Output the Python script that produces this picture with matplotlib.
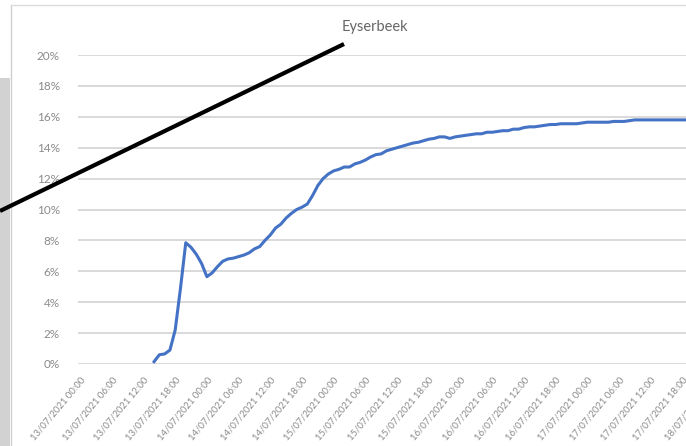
import numpy as np
import matplotlib
matplotlib.use("Agg")
import matplotlib.pyplot as plt
from matplotlib.lines import Line2D
from matplotlib.patches import Rectangle
from matplotlib.ticker import FuncFormatter

plt.rcParams['font.family'] = ['Lato', 'DejaVu Sans']

# Eyserbeek: cumulative share, hourly readings starting 13/07/2021 14:00
start_hour = 14
share_pct = [
    0.15, 0.6, 0.65, 0.9, 2.2, 4.9, 7.85, 7.55, 7.1, 6.5,
    5.65, 5.9, 6.3, 6.65, 6.8, 6.85, 6.95, 7.05, 7.2, 7.45,
    7.6, 8.0, 8.35, 8.8, 9.05, 9.45, 9.75, 10.0, 10.15, 10.35,
    10.9, 11.55, 12.0, 12.3, 12.5, 12.6, 12.75, 12.75, 12.95, 13.05,
    13.2, 13.4, 13.55, 13.6, 13.8, 13.9, 14.0, 14.1, 14.2, 14.3,
    14.35, 14.45, 14.55, 14.6, 14.7, 14.7, 14.6, 14.7, 14.75, 14.8,
    14.85, 14.9, 14.9, 15.0, 15.0, 15.05, 15.1, 15.1, 15.2, 15.2,
    15.3, 15.35, 15.35, 15.4, 15.45, 15.5, 15.5, 15.55, 15.55, 15.55,
    15.55, 15.6, 15.65, 15.65, 15.65, 15.65, 15.65, 15.7, 15.7, 15.7,
    15.75, 15.8, 15.8, 15.8, 15.8, 15.8, 15.8, 15.8, 15.8, 15.8,
    15.8, 15.8, 15.8, 15.8, 15.8, 15.8, 15.8,
]

tick_hours = list(range(0, 121, 6))
tick_labels = [
    "13/07/2021 00:00", "13/07/2021 06:00", "13/07/2021 12:00", "13/07/2021 18:00",
    "14/07/2021 00:00", "14/07/2021 06:00", "14/07/2021 12:00", "14/07/2021 18:00",
    "15/07/2021 00:00", "15/07/2021 06:00", "15/07/2021 12:00", "15/07/2021 18:00",
    "16/07/2021 00:00", "16/07/2021 06:00", "16/07/2021 12:00", "16/07/2021 18:00",
    "17/07/2021 00:00", "17/07/2021 06:00", "17/07/2021 12:00", "17/07/2021 18:00",
    "18/07/2021 00:00",
]
y_ticks = [0, 2, 4, 6, 8, 10, 12, 14, 16, 18, 20]

W, H = 686, 446
fig = plt.figure(figsize=(W / 100, H / 100), dpi=100)
fig.patch.set_facecolor("white")

# page background strip on the left and the chart frame
fig.patches.append(Rectangle((0, 0), 10 / W, 1 - 78 / H, transform=fig.transFigure,
                             facecolor="#d2d2d2", edgecolor="none", zorder=0))
fig.lines.append(Line2D([10.5 / W, 10.5 / W], [0, 1 - 5 / H], transform=fig.transFigure,
                        color="#cfcfcf", lw=1.0))
fig.lines.append(Line2D([10.5 / W, 1], [1 - 5 / H, 1 - 5 / H], transform=fig.transFigure,
                        color="#dcdcdc", lw=1.0))

ax = fig.add_axes([78 / W, 1 - 364 / H, (714 - 78) / W, (364 - 55) / H])
ax.set_facecolor("white")

hours = start_hour + np.arange(len(share_pct))
ax.plot(hours, share_pct, color="#4472C4", lw=2.2, solid_joinstyle="round", zorder=3)

ax.set_xlim(-0.4, 120)
ax.set_ylim(0, 20)
ax.set_yticks(y_ticks)
ax.yaxis.set_major_formatter(FuncFormatter(lambda v, _: f"{v:.0f}%"))
ax.set_xticks(tick_hours)
ax.set_xticklabels(tick_labels, rotation=50, ha="right", va="top",
                   rotation_mode="anchor")

ax.grid(axis="y", color="#d9d9d9", lw=1.4)
ax.set_axisbelow(True)
for s in ax.spines.values():
    s.set_visible(False)
ax.tick_params(axis="both", length=0, colors="#8a8a8a")
ax.tick_params(axis="y", labelsize=8.5, pad=13)
ax.tick_params(axis="x", labelsize=6.8, pad=8)

fig.text(375 / W, 1 - 27 / H, "Eyserbeek", ha="center", va="center",
         fontsize=10.5, color="#666666")

# pointer line drawn over the chart
fig.lines.append(Line2D([0, 344 / W], [1 - 211 / H, 1 - 44 / H], transform=fig.transFigure,
                        color="black", lw=3.0, solid_capstyle="butt", zorder=10))

fig.savefig("out.png", dpi=100)
